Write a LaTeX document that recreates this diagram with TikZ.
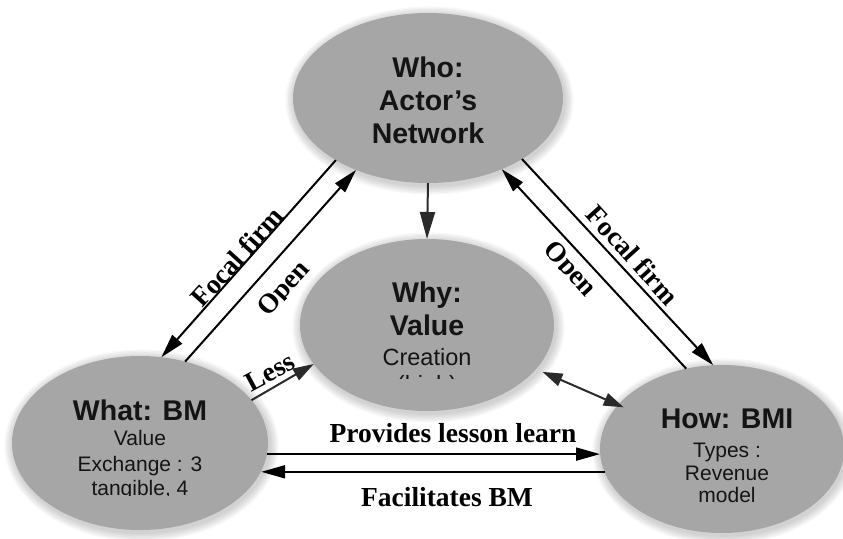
\documentclass[tikz,border=0pt]{standalone}
\usepackage{fontspec}
\setmainfont{Liberation Serif}
\newfontfamily\arialfont{Liberation Sans}
\usetikzlibrary{arrows.meta,shapes.geometric}

\definecolor{bubblegray}{HTML}{A6A6A6}
\definecolor{darkink}{HTML}{2A2A2A}

\tikzset{
  bubble/.style={ellipse, fill=bubblegray, inner sep=0pt, outer sep=0pt},
  headtxt/.style={font=\arialfont\bfseries\fontsize{28.5}{33}\selectfont, anchor=base, inner sep=0pt, text=black!92},
  bodytxt/.style={font=\arialfont\fontsize{21}{25}\selectfont, anchor=base, inner sep=0pt, text=black!92},
  linklbl/.style={font=\bfseries\fontsize{27.5}{30}\selectfont, inner sep=0pt},
  mainlink/.style={line width=2pt, -{Triangle[length=24pt,width=13pt]}},
  sidelink/.style={draw=darkink, line width=2pt, -{Triangle[length=21pt,width=13pt]}},
}

% soft halo under a bubble: centre x, centre y, x radius, y radius
\newcommand\bubblehalo[4]{%
  \foreach \k in {1,...,7}{%
    \fill[black,opacity=0.028] (#1+1.5,#2-2.5) ellipse [x radius=#3+\k*1.3, y radius=#4+\k*1.3];
  }%
}

\begin{document}
\begin{tikzpicture}[x=1pt,y=1pt]
  \useasboundingbox (0,0) rectangle (843,-538);

  % halos
  \bubblehalo{428}{-98}{135}{85}
  \bubblehalo{427}{-325}{127}{86}
  \bubblehalo{140}{-443}{128}{87}
  \bubblehalo{722}{-449}{122}{84}

  % bubbles
  \node[bubble, minimum width=270pt, minimum height=170pt] (who) at (428,-98) {};
  \node[bubble, minimum width=254pt, minimum height=172pt] (why) at (427,-325) {};
  \node[bubble, minimum width=256pt, minimum height=174pt] (what) at (140,-443) {};
  \node[bubble, minimum width=244pt, minimum height=168pt] (how) at (722,-449) {};

  % Who
  \node[headtxt] (who1) at (428,-77) {Who:};
  \node[headtxt] (who2) at (428,-110) {Actor’s};
  \node[headtxt] (who3) at (428,-143) {Network};

  % Why
  \node[headtxt] (why1) at (427,-302) {Why:};
  \node[headtxt] (why2) at (427,-335) {Value};
  \node[bodytxt, font=\arialfont\fontsize{23.5}{27}\selectfont] (why3) at (427,-365) {Creation};
  \begin{scope}
    \clip (300,-378) rectangle (560,-368);
    \node[bodytxt, font=\arialfont\fontsize{23.5}{27}\selectfont] (why4) at (427,-392) {(high)};
  \end{scope}

  % What
  \node[headtxt] (what1) at (140,-420) {What: BM};
  \node[bodytxt] (what2) at (140,-445) {Value};
  \node[bodytxt] (what3) at (140,-471) {Exchange : 3};
  \begin{scope}
    \clip (20,-495.5) rectangle (260,-476);
    \node[bodytxt] (what4) at (140,-495) {tangible, 4};
  \end{scope}

  % How
  \node[headtxt] (how1) at (727,-428) {How: BMI};
  \node[bodytxt] (how2) at (727,-457) {Types :};
  \node[bodytxt] (how3) at (727,-480) {Revenue};
  \node[bodytxt] (how4) at (727,-502) {model};

  % links between who and what
  \draw[mainlink] (who.214.5) -- (what.76.3);
  \draw[mainlink] (what.61) -- (who.225.4);
  % links between who and how
  \draw[mainlink] (who.327.4) -- (how.96.4);
  \draw[mainlink] (how.114.2) -- (who.316.9);
  % links into why
  \draw[sidelink, -{Triangle[length=27pt,width=15pt]}] (who.270) -- (why.90);
  \draw[sidelink] (what.21.7) -- (why.199.3);
  \draw[sidelink, {Triangle[length=20pt,width=13pt]}-{Triangle[length=20pt,width=13pt]},
        shorten <=7pt, shorten >=-6pt] (why.338) -- (how.157.5);
  % links between what and how
  \draw[mainlink] (what.355.5) -- (what.355.5 -| how.west);
  \draw[mainlink] (how.191.6) -- (how.191.6 -| what.347);

  % link labels
  \node[linklbl, rotate=47.8] (focalleft) at (237,-257) {Focal firm};
  \begin{scope}[shift={(283,-288)}, rotate=47.8]
    \clip (-45,-9.5) rectangle (45,20);
    \node[linklbl, anchor=base, transform shape] (openleft) at (0,-9) {Open};
  \end{scope}
  \node[linklbl, rotate=-47.9] (focalright) at (633,-255) {Focal firm};
  \begin{scope}[shift={(571,-268)}, rotate=-47.9]
    \clip (-45,-9.5) rectangle (45,20);
    \node[linklbl, anchor=base, transform shape] (openright) at (0,-9) {Open};
  \end{scope}
  \node[linklbl, rotate=28.3] (less) at (270,-372) {Less};
  \node[linklbl, anchor=base] (provides) at (453,-442) {Provides lesson learn};
  \node[linklbl, anchor=base] (facilitates) at (447,-506) {Facilitates BM};
\end{tikzpicture}
\end{document}
